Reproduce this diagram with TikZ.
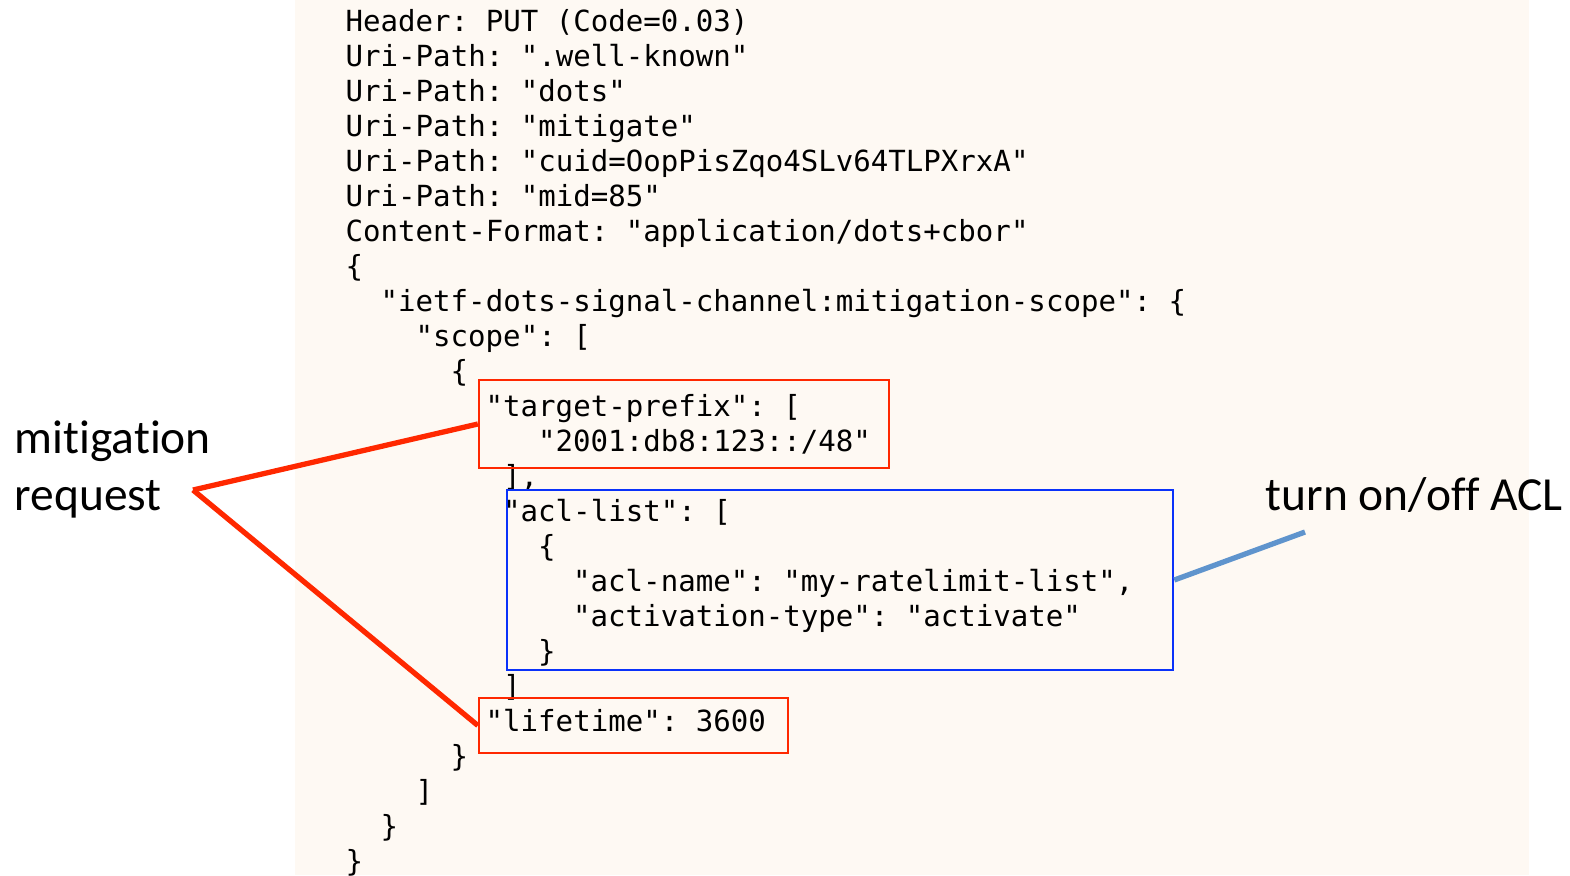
\documentclass[tikz,border=0pt]{standalone}
\usepackage{fontspec}
\usepackage{tikz}
\newfontfamily\codefont{DejaVu Sans Mono}
\newfontfamily\labelfont{Carlito}[Ligatures=NoCommon]
\definecolor{bgcream}{RGB}{254,249,243}
\definecolor{markred}{RGB}{255,40,0}
\definecolor{markblue}{RGB}{10,50,250}
\definecolor{pointerblue}{RGB}{95,148,205}

\begin{document}
\begin{tikzpicture}[x=0.01cm, y=-0.01cm,
	code/.style={font=\codefont\fontsize{8.27}{9.9}\selectfont\frenchspacing, anchor=base west, inner sep=0pt},
	lbl/.style={font=\labelfont\fontsize{13.5}{16.2}\selectfont, anchor=base west, inner sep=0pt, align=left},
	redbox/.style={draw=markred, line width=0.6pt, inner sep=0pt},
	bluebox/.style={draw=markblue, line width=0.6pt, inner sep=0pt},
	redline/.style={markred, line width=1.5pt},
	blueline/.style={pointerblue, line width=1.5pt}]
			%%%%% START %%%%%
			
			\useasboundingbox (0, 0) rectangle (1570, 875);
			\fill[white] (0, 0) rectangle (1570, 875);
			\fill[bgcream] (295, 0) rectangle (1529, 875);
			
			\node[code] (l1) at (345, 31.5) {Header: PUT (Code=0.03)};
			\node[code] (l2) at (345, 66.5) {Uri-Path: ".well-known"};
			\node[code] (l3) at (345, 101.5) {Uri-Path: "dots"};
			\node[code] (l4) at (345, 136.5) {Uri-Path: "mitigate"};
			\node[code] (l5) at (345, 171.5) {Uri-Path: "cuid=OopPisZqo4SLv64TLPXrxA"};
			\node[code] (l6) at (345, 206.5) {Uri-Path: "mid=85"};
			\node[code] (l7) at (345, 241.5) {Content-Format: "application/dots+cbor"};
			\node[code] (l8) at (345, 276.5) {\{};
			\node[code] (l9) at (380, 311.5) {"ietf-dots-signal-channel:mitigation-scope": \{};
			\node[code] (l10) at (415, 346.5) {"scope": [};
			\node[code] (l11) at (450, 381.5) {\{};
			\node[code] (l12) at (485, 416.5) {"target-prefix": [};
			\node[code] (l13) at (537.5, 451.5) {"2001:db8:123::/48"};
			\node[code] (l14) at (502.5, 486.5) {],};
			\node[code] (l15) at (502.5, 521.5) {"acl-list": [};
			\node[code] (l16) at (537.5, 556.5) {\{};
			\node[code] (l17) at (572.5, 591.5) {"acl-name": "my-ratelimit-list",};
			\node[code] (l18) at (572.5, 626.5) {"activation-type": "activate"};
			\node[code] (l19) at (537.5, 661.5) {\}};
			\node[code] (l20) at (502.5, 696.5) {]};
			\node[code] (l21) at (485, 731.5) {"lifetime": 3600};
			\node[code] (l22) at (450, 766.5) {\}};
			\node[code] (l23) at (415, 801.5) {]};
			\node[code] (l24) at (380, 836.5) {\}};
			\node[code] (l25) at (345, 871.5) {\}};
			
			\node[redbox, minimum width=4.10cm, minimum height=0.88cm] (tpbox) at (684, 424) {};
			\node[bluebox, minimum width=6.66cm, minimum height=1.80cm] (aclbox) at (840, 580) {};
			\node[redbox, minimum width=3.09cm, minimum height=0.55cm] (ltbox) at (633.5, 725.5) {};
			
			\node[lbl] (mreq) at (14, 510) {mitigation\\request};
			\coordinate (mrtip) at (193, 490);
			\draw[redline] (mrtip) -- (tpbox.west);
			\draw[redline] (mrtip) -- (ltbox.west);
			
			\node[lbl] (acllbl) at (1265, 510) {turn on/off ACL};
			\coordinate (acltip) at (1305, 532);
			\draw[blueline] (aclbox.east) -- (acltip);
			
			%%%%% END %%%%%
\end{tikzpicture}
\end{document}
